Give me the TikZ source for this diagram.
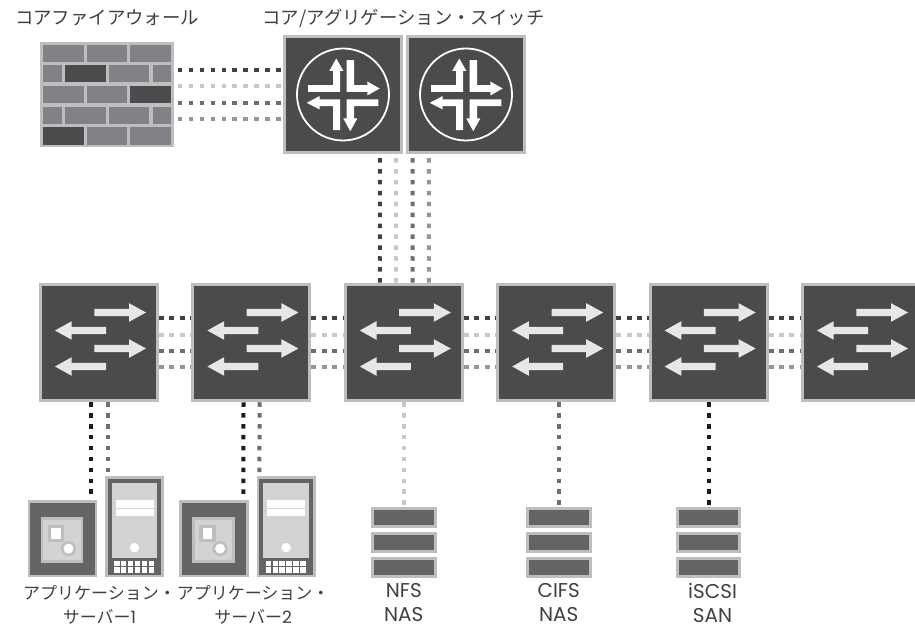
\documentclass[tikz,border=0pt]{standalone}
\usepackage{fontspec}
\setmainfont{Noto Sans CJK JP}
\newfontfamily\latinfont{Poppins}
\usepackage{xcolor}
\usepackage{tikz}
\usetikzlibrary{positioning}

\definecolor{boxdark}{HTML}{4A4B4D}
\definecolor{boxmid}{HTML}{636466}
\definecolor{edgegray}{HTML}{BCBEC0}
\definecolor{brickgray}{HTML}{808285}
\definecolor{panelgray}{HTML}{D1D3D4}
\definecolor{arrowgray}{HTML}{E6E7E8}
\definecolor{linkblack}{HTML}{1C1C1E}
\definecolor{linkdark}{HTML}{414042}
\definecolor{linklight}{HTML}{C7C8CA}
\definecolor{linkmid}{HTML}{6D6E71}
\definecolor{linkpale}{HTML}{939598}

\tikzset{
  pics/swarrows/.style={code={
    \fill[arrowgray] (-4.7,-33.7) -- (30,-33.7) -- (30,-39.3) -- (47,-30) -- (30,-20.7) -- (30,-26.3) -- (-4.7,-26.3) -- cycle;
    \fill[arrowgray] (-4.7,2.3) -- (30,2.3) -- (30,-3.3) -- (47,6) -- (30,15.3) -- (30,9.7) -- (-4.7,9.7) -- cycle;
    \fill[arrowgray] (7,-15.7) -- (-27.3,-15.7) -- (-27.3,-21.3) -- (-44,-12) -- (-27.3,-2.7) -- (-27.3,-8.3) -- (7,-8.3) -- cycle;
    \fill[arrowgray] (7,20.3) -- (-27.3,20.3) -- (-27.3,14.7) -- (-44,24) -- (-27.3,33.3) -- (-27.3,27.7) -- (7,27.7) -- cycle;
  }},
  pics/corearrows/.style={code={
    \draw[white,line width=1.8pt] (0,0) circle (46pt);
    \fill[white] (-35,-9.3) -- (-10,-9.3) -- (-10,-23.7) -- (-13.7,-23.7) -- (-6.7,-36) -- (0.3,-23.7) -- (-3,-23.7) -- (-3,-2.7) -- (-35,-2.7) -- cycle;
    \fill[white] (3.7,-34.3) -- (11,-34.3) -- (11,-9.3) -- (24.3,-9.3) -- (24.3,-13) -- (36.7,-6) -- (24.3,1) -- (24.3,-2.7) -- (3.7,-2.7) -- cycle;
    \fill[white] (-36.3,8.3) -- (-23.3,1.6) -- (-23.3,5) -- (-3,5) -- (-3,35.7) -- (-10,35.7) -- (-10,11.7) -- (-23.3,11.7) -- (-23.3,15) -- cycle;
    \fill[white] (35.3,5) -- (35.3,11.7) -- (11,11.7) -- (11,24) -- (14.3,24) -- (7.3,36.7) -- (0.3,24) -- (3.7,24) -- (3.7,5) -- cycle;
  }},
  pics/bricks/.style={code={
    \tikzstyle{brick}=[fill=brickgray]
    \tikzstyle{darkbrick}=[fill=boxdark]
    \fill[brick] (-63.8,-49.5) rectangle (-23.5,-32.8);
    \fill[brick] (-20.2,-49.5) rectangle (19.8,-32.8);
    \fill[brick] (23.2,-49.5) rectangle (63.5,-32.8);
    \fill[brick] (-63.8,-29.5) rectangle (-45.5,-12.2);
    \fill[darkbrick] (-41.8,-29.5) rectangle (-1.5,-12.2);
    \fill[brick] (1.5,-29.5) rectangle (42.2,-12.2);
    \fill[brick] (45.5,-29.5) rectangle (63.5,-12.2);
    \fill[brick] (-63.8,-8.5) rectangle (-23.5,8.8);
    \fill[brick] (-20.2,-8.5) rectangle (19.8,8.8);
    \fill[darkbrick] (23.2,-8.5) rectangle (63.5,8.8);
    \fill[brick] (-63.8,12.2) rectangle (-45.5,29.5);
    \fill[brick] (-41.8,12.2) rectangle (-1.5,29.5);
    \fill[brick] (1.5,12.2) rectangle (42.2,29.5);
    \fill[brick] (45.5,12.2) rectangle (63.5,29.5);
    \fill[darkbrick] (-63.8,32.8) rectangle (-23.5,50.5);
    \fill[brick] (-20.2,32.8) rectangle (19.8,50.5);
    \fill[brick] (23.2,32.8) rectangle (63.5,50.5);
  }},
  pics/bladeface/.style={code={
    \fill[edgegray] (-21.8,-21.5) rectangle (20.8,24.5);
    \fill[panelgray] (-19.2,-18.8) rectangle (18.2,21.2);
    \fill[edgegray] (-14.8,-13.8) rectangle (1.5,3.8);
    \fill[white] (-11.5,-10.5) rectangle (-1.8,0.5);
    \fill[edgegray] (6,10) circle (7.5pt);
    \fill[white] (6,10) circle (5pt);
  }},
  pics/towerface/.style={code={
    \fill[panelgray] (-22.8,-44) rectangle (22.8,31);
    \fill[white] (-19,-26.3) rectangle (19,-19);
    \fill[white] (-19,-17.3) rectangle (19,-10.3);
    \fill[white] (0,21) circle (4.7pt);
    \fill[white] (-20.5,34.3) rectangle (-15,39.6);
    \fill[white] (-13.6,34.3) rectangle (-8.1,39.6);
    \fill[white] (-6.7,34.3) rectangle (-1.2,39.6);
    \fill[white] (0.2,34.3) rectangle (5.7,39.6);
    \fill[white] (7.1,34.3) rectangle (12.6,39.6);
    \fill[white] (14,34.3) rectangle (19.5,39.6);
    \fill[white] (-20.5,40.6) rectangle (-15,45.9);
    \fill[white] (-13.6,40.6) rectangle (-8.1,45.9);
    \fill[white] (-6.7,40.6) rectangle (-1.2,45.9);
    \fill[white] (0.2,40.6) rectangle (5.7,45.9);
    \fill[white] (7.1,40.6) rectangle (12.6,45.9);
    \fill[white] (14,40.6) rectangle (19.5,45.9);
  }}
}

\begin{document}
\begin{tikzpicture}[x=1pt,y=-1pt,node distance=4pt and 32.4pt,
  every node/.style={font=\fontsize{17}{24}\selectfont,text=black!75}]
\tikzstyle{switchbox}=[draw=edgegray,fill=boxdark,line width=3pt,minimum width=117pt,minimum height=116.5pt,inner sep=0pt]
\tikzstyle{firewallbox}=[fill=edgegray,minimum width=133.6pt,minimum height=105.4pt,inner sep=0pt]
\tikzstyle{bladebox}=[draw=edgegray,fill=boxmid,line width=2.6pt,minimum width=67pt,minimum height=74.7pt,inner sep=0pt]
\tikzstyle{towerbox}=[draw=edgegray,fill=boxmid,line width=2.6pt,minimum width=56.4pt,minimum height=98.7pt,inner sep=0pt]
\tikzstyle{shelfbox}=[draw=edgegray,fill=boxmid,line width=3pt,minimum width=62.7pt,minimum height=18pt,inner sep=0pt]
\tikzstyle{caption}=[align=center,inner sep=0pt]
\tikzstyle{headline}=[caption,font=\fontsize{18.4}{24}\selectfont]
\tikzstyle{nascaption}=[caption,font=\fontsize{20}{23.5}\selectfont\latinfont]
\tikzstyle{dots}=[line width=4pt,dash pattern=on 4.5pt off 6.4pt]
\tikzstyle{gapped}=[dash phase=7pt]
\tikzstyle{tight}=[dash pattern=on 5pt off 5.4pt]
\tikzstyle{linkA}=[dots,draw=linkdark]
\tikzstyle{linkB}=[dots,draw=linklight]
\tikzstyle{linkC}=[dots,draw=linkmid]
\tikzstyle{linkD}=[dots,draw=linkpale]
\tikzstyle{linkE}=[dots,draw=linkblack]
\clip[use as bounding box] (0,0) rectangle (915,628);

\node[switchbox] (core1) at (343,94.5) {};
\node[switchbox,right=3pt of core1] (core2) {};
\node[firewallbox,left=109pt of core1] (wall) {};
\node[switchbox] (sw1) at (99,342.5) {};
\node[switchbox,right=of sw1] (sw2) {};
\node[switchbox,right=of sw2] (sw3) {};
\node[switchbox,right=of sw3] (sw4) {};
\node[switchbox,right=of sw4] (sw5) {};
\node[switchbox,right=of sw5] (sw6) {};

\node[bladebox] (blade1) at (62.5,538.6) {};
\node[towerbox,anchor=south west,xshift=7.7pt] (tower1) at (blade1.south east) {};
\node[bladebox,anchor=south west,xshift=15.3pt] (blade2) at (tower1.south east) {};
\node[towerbox,anchor=south west,xshift=7.7pt] (tower2) at (blade2.south east) {};
\node[shelfbox,below=105pt of sw3] (nfs1) {};
\node[shelfbox,below=of nfs1] (nfs2) {};
\node[shelfbox,below=of nfs2] (nfs3) {};
\node[shelfbox,below=105pt of sw4,xshift=2.5pt] (cifs1) {};
\node[shelfbox,below=of cifs1] (cifs2) {};
\node[shelfbox,below=of cifs2] (cifs3) {};
\node[shelfbox,below=105pt of sw5] (iscsi1) {};
\node[shelfbox,below=of iscsi1] (iscsi2) {};
\node[shelfbox,below=of iscsi2] (iscsi3) {};

\pic at (core1) {corearrows};
\pic at (core2) {corearrows};
\pic at (wall) {bricks};
\pic at (sw1) {swarrows};
\pic at (sw2) {swarrows};
\pic at (sw3) {swarrows};
\pic at (sw4) {swarrows};
\pic at (sw5) {swarrows};
\pic at (sw6) {swarrows};
\pic at (blade1) {bladeface};
\pic at (blade2) {bladeface};
\pic at (tower1) {towerface};
\pic at (tower2) {towerface};

\node[headline] (walllabel) at (107,18) {コアファイアウォール};
\node[headline] (corelabel) at (403.5,18) {コア/アグリゲーション・スイッチ};
\node[caption,below=8pt of blade1,xshift=37pt] (app1label) {アプリケーション・\\サーバー{\latinfont 1}};
\node[caption,below=8pt of blade2,xshift=39pt] (app2label) {アプリケーション・\\サーバー{\latinfont 2}};
\node[nascaption,below=5pt of nfs3] (nfslabel) {NFS\\NAS};
\node[nascaption,below=5pt of cifs3] (cifslabel) {CIFS\\NAS};
\node[nascaption,below=5pt of iscsi3,xshift=4pt] (iscsilabel) {iSCSI\\SAN};

\draw[linkA,gapped] ([yshift=24.3pt]wall.east) -- ([yshift=24.3pt]core1.west);
\draw[linkB,gapped] ([yshift=8.3pt]wall.east) -- ([yshift=8.3pt]core1.west);
\draw[linkC,gapped] ([yshift=-8.3pt]wall.east) -- ([yshift=-8.3pt]core1.west);
\draw[linkD,gapped] ([yshift=-24.3pt]wall.east) -- ([yshift=-24.3pt]core1.west);

\draw[linkA,gapped] ([xshift=37pt]core1.south) -- ([xshift=-24pt]sw3.north);
\draw[linkB,gapped] ([xshift=53pt]core1.south) -- ([xshift=-8pt]sw3.north);
\draw[linkC,gapped] ([xshift=-53.3pt]core2.south) -- ([xshift=8.7pt]sw3.north);
\draw[linkD,gapped] ([xshift=-37pt]core2.south) -- ([xshift=25pt]sw3.north);

\draw[linkA,tight] ([yshift=24.2pt]sw1.east) -- ([yshift=24.2pt]sw2.west);
\draw[linkB,tight] ([yshift=7.8pt]sw1.east) -- ([yshift=7.8pt]sw2.west);
\draw[linkC,tight] ([yshift=-8.5pt]sw1.east) -- ([yshift=-8.5pt]sw2.west);
\draw[linkD,tight] ([yshift=-24.8pt]sw1.east) -- ([yshift=-24.8pt]sw2.west);
\draw[linkA,tight] ([yshift=24.2pt]sw2.east) -- ([yshift=24.2pt]sw3.west);
\draw[linkB,tight] ([yshift=7.8pt]sw2.east) -- ([yshift=7.8pt]sw3.west);
\draw[linkC,tight] ([yshift=-8.5pt]sw2.east) -- ([yshift=-8.5pt]sw3.west);
\draw[linkD,tight] ([yshift=-24.8pt]sw2.east) -- ([yshift=-24.8pt]sw3.west);
\draw[linkA,tight] ([yshift=24.2pt]sw3.east) -- ([yshift=24.2pt]sw4.west);
\draw[linkB,tight] ([yshift=7.8pt]sw3.east) -- ([yshift=7.8pt]sw4.west);
\draw[linkC,tight] ([yshift=-8.5pt]sw3.east) -- ([yshift=-8.5pt]sw4.west);
\draw[linkD,tight] ([yshift=-24.8pt]sw3.east) -- ([yshift=-24.8pt]sw4.west);
\draw[linkA,tight] ([yshift=24.2pt]sw4.east) -- ([yshift=24.2pt]sw5.west);
\draw[linkB,tight] ([yshift=7.8pt]sw4.east) -- ([yshift=7.8pt]sw5.west);
\draw[linkC,tight] ([yshift=-8.5pt]sw4.east) -- ([yshift=-8.5pt]sw5.west);
\draw[linkD,tight] ([yshift=-24.8pt]sw4.east) -- ([yshift=-24.8pt]sw5.west);
\draw[linkA,tight] ([yshift=24.2pt]sw5.east) -- ([yshift=24.2pt]sw6.west);
\draw[linkB,tight] ([yshift=7.8pt]sw5.east) -- ([yshift=7.8pt]sw6.west);
\draw[linkC,tight] ([yshift=-8.5pt]sw5.east) -- ([yshift=-8.5pt]sw6.west);
\draw[linkD,tight] ([yshift=-24.8pt]sw5.east) -- ([yshift=-24.8pt]sw6.west);

\draw[linkE] ([xshift=-7.7pt]sw1.south) -- ([xshift=28.8pt]blade1.north);
\draw[linkC] ([xshift=8.7pt]sw1.south) -- ([xshift=-26.8pt]tower1.north);
\draw[linkE] ([xshift=-7.9pt]sw2.south) -- ([xshift=29.3pt]blade2.north);
\draw[linkC] ([xshift=8.3pt]sw2.south) -- ([xshift=-26.8pt]tower2.north);
\draw[linkB] (sw3.south) -- (nfs1.north);
\draw[linkC] ([xshift=2.5pt]sw4.south) -- (cifs1.north);
\draw[linkE] (sw5.south) -- (iscsi1.north);
\end{tikzpicture}
\end{document}
